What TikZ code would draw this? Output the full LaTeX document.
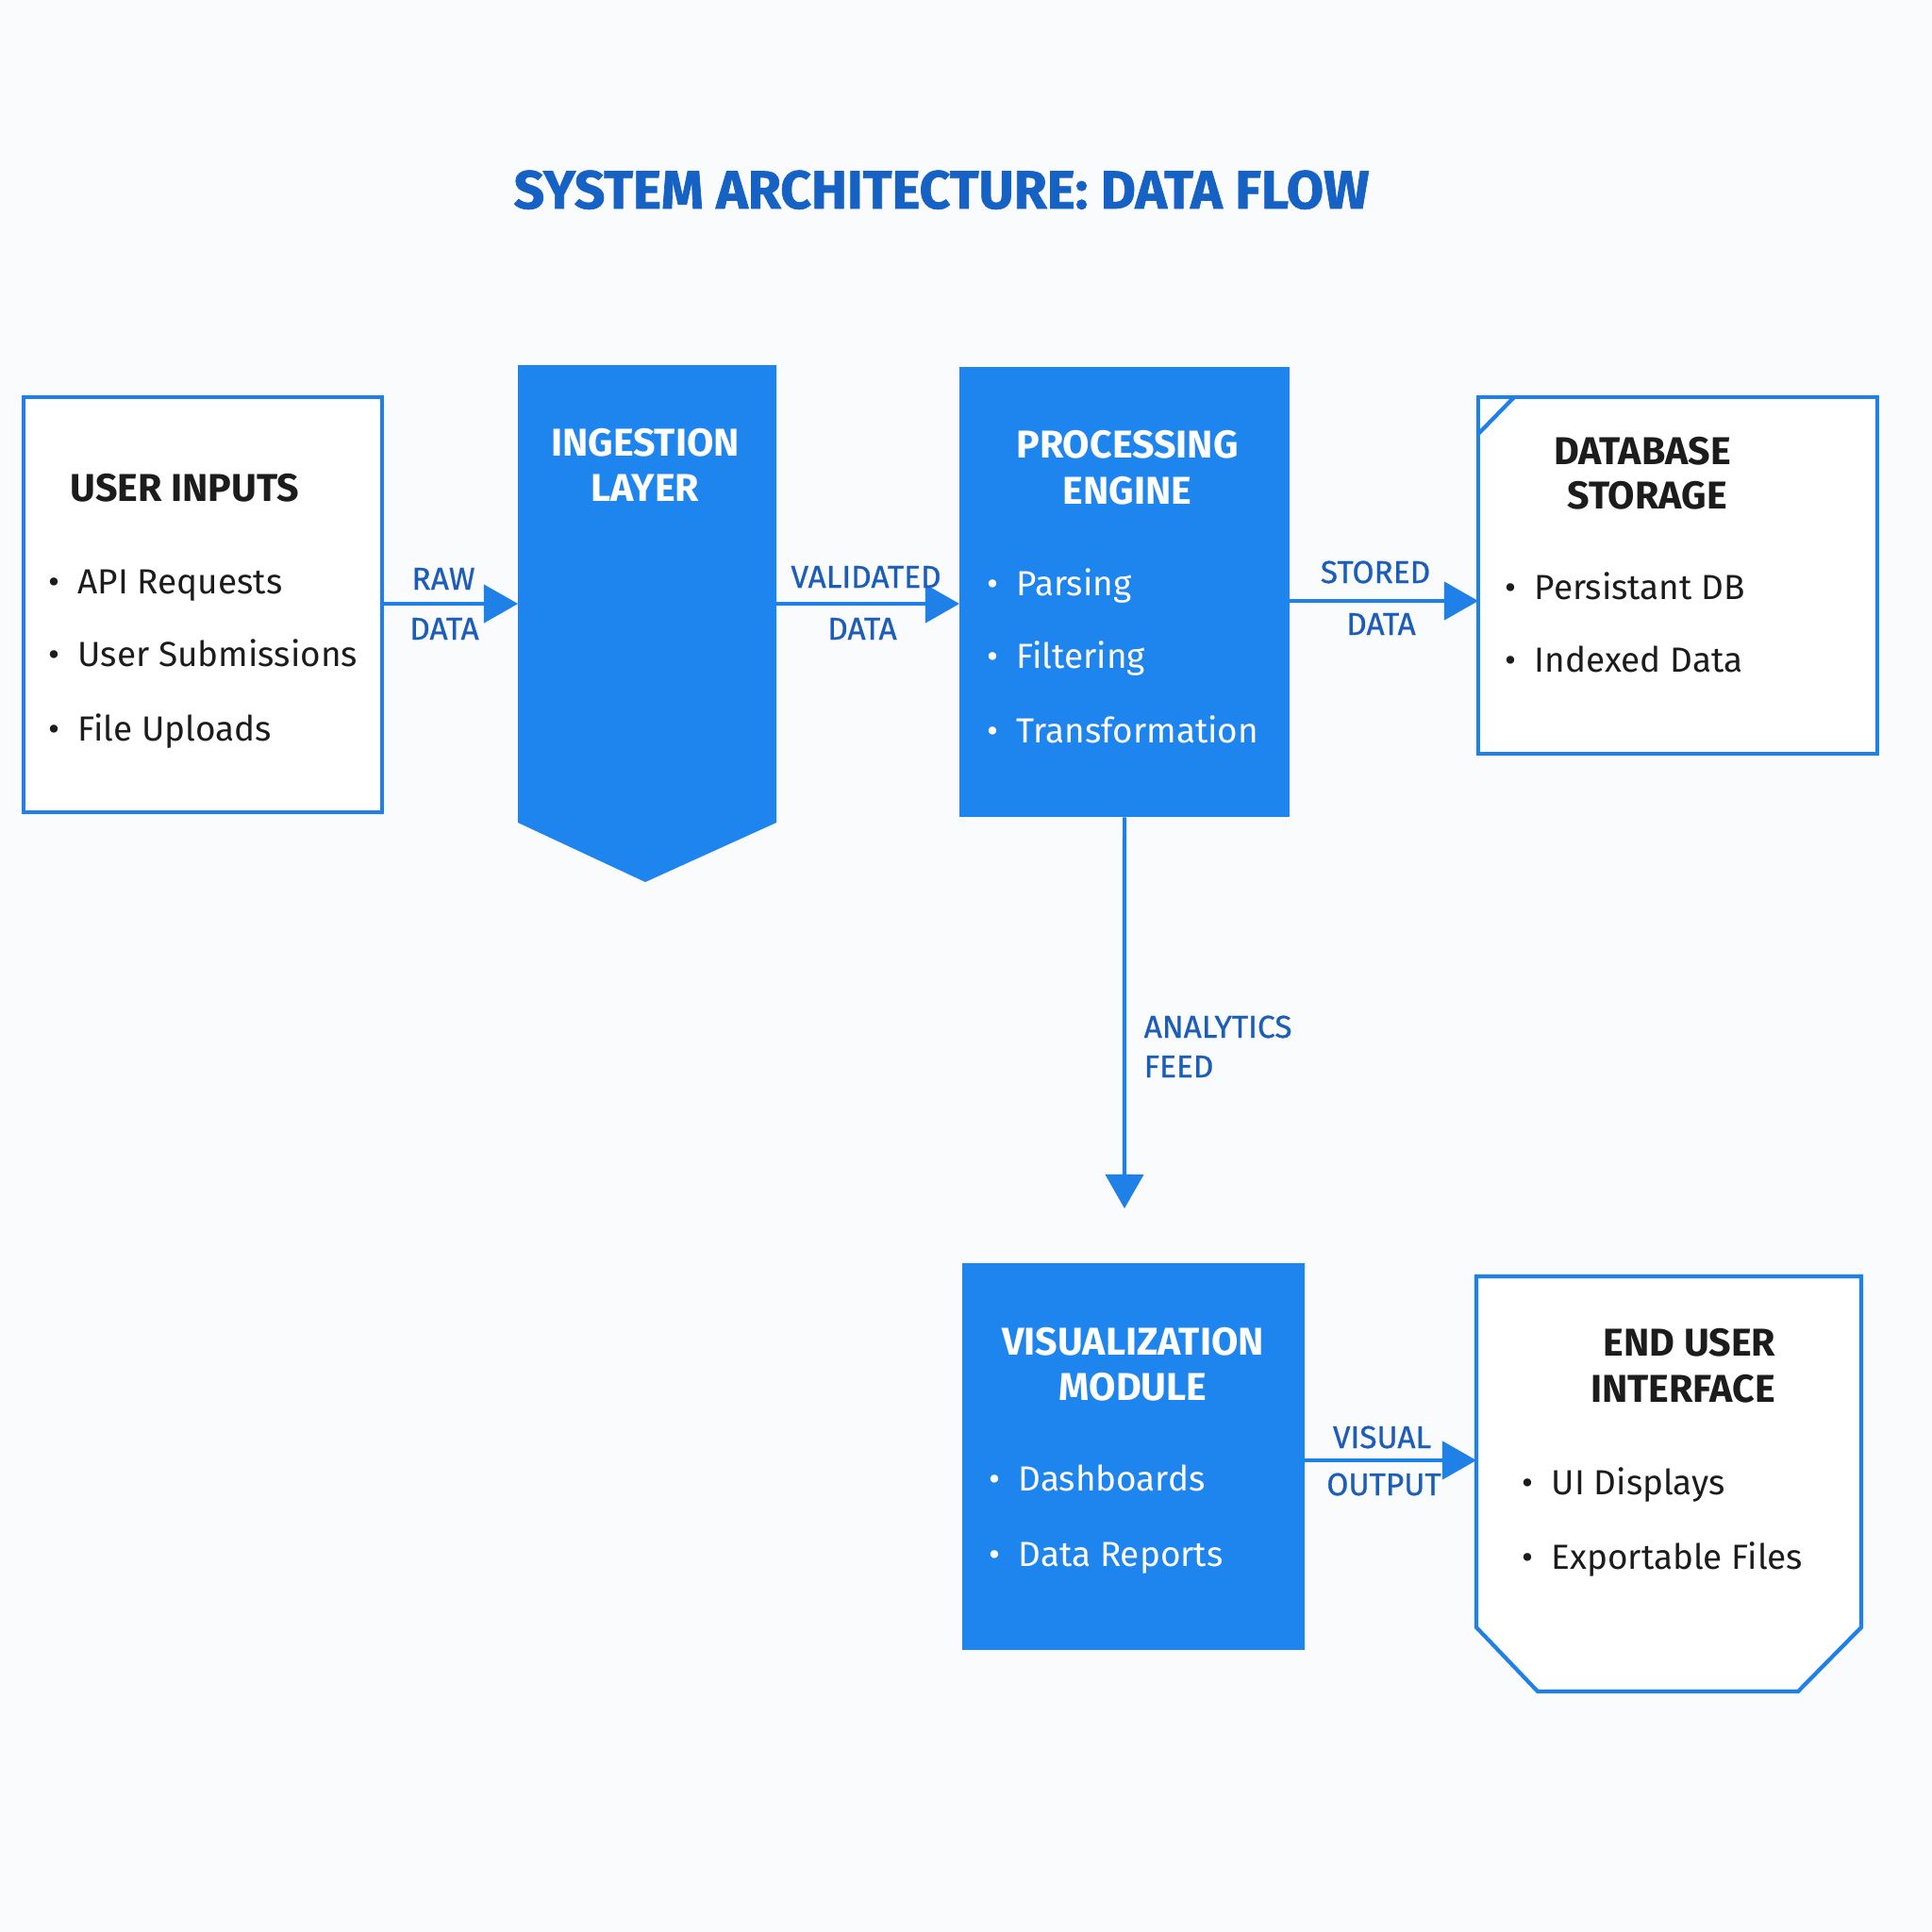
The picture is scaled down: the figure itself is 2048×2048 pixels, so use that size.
\documentclass[tikz,border=0pt]{standalone}
\usepackage{fontspec}
\setmainfont{Fira Sans}
\newfontfamily\heavyfont{Fira Sans}[UprightFeatures={FakeBold=1.2}, BoldFeatures={FakeBold=1.2}]
\newfontfamily\lblfont{Fira Sans}[UprightFeatures={FakeBold=0.7}, BoldFeatures={FakeBold=0.7}]
\usetikzlibrary{arrows.meta}
\definecolor{fillblue}{HTML}{1E84EE}
\definecolor{lineblue}{HTML}{1F80E8}
\definecolor{titleblue}{HTML}{1662C4}
\definecolor{lblblue}{HTML}{1B5DB8}
\definecolor{inktext}{HTML}{1C1C1C}
\definecolor{bgcol}{HTML}{FAFBFD}
\begin{document}
\begin{tikzpicture}[x=0.01cm,y=-0.01cm,
  outbox/.style={draw=lineblue, line width=1.2pt, fill=white, inner sep=0pt, outer sep=0pt, anchor=north west},
  solidbox/.style={fill=fillblue, inner sep=0pt, outer sep=0pt, anchor=north west},
  ghost/.style={inner sep=0pt, outer sep=0pt, anchor=north west},
  flow/.style={draw=lineblue, line width=1.2pt, -{Triangle[length=0.36cm,width=0.40cm]}},
  headdark/.style={font=\fontsize{11.7}{13.5}\selectfont\bfseries, text=inktext, inner sep=0pt, anchor=base},
  headlight/.style={font=\fontsize{11.7}{13.5}\selectfont\bfseries, text=white, inner sep=0pt, anchor=base},
  itemdark/.style={font=\fontsize{10.5}{12}\selectfont, text=inktext, inner sep=0pt, anchor=base west},
  itemlight/.style={font=\fontsize{10.5}{12}\selectfont, text=white, inner sep=0pt, anchor=base west},
  lbl/.style={font=\lblfont\fontsize{9.5}{11}\selectfont, text=lblblue, inner sep=0pt, anchor=base},
  lblleft/.style={font=\lblfont\fontsize{9.5}{11}\selectfont, text=lblblue, inner sep=0pt, anchor=base west},
  titlestyle/.style={font=\heavyfont\fontsize{16.2}{19}\selectfont\bfseries, text=titleblue, inner sep=0pt, anchor=base}
]
% background
\fill[bgcol] (0,0) rectangle (2048,2048);
\useasboundingbox (0,0) rectangle (2048,2048);

% title
\node[titlestyle] (title) at (998,221) {SYSTEM ARCHITECTURE: DATA FLOW};

% user inputs
\node[outbox, minimum width=3.80cm, minimum height=4.40cm] (ui) at (25,421) {};
\node[headdark, anchor=base west] (uih) at (74,531) {USER INPUTS};
\node[itemdark] (ui1) at (82,629) {\llap{•\hspace{5.5pt}}API Requests};
\node[itemdark] (ui2) at (82,706) {\llap{•\hspace{5.5pt}}User Submissions};
\node[itemdark] (ui3) at (82,785) {\llap{•\hspace{5.5pt}}File Uploads};

% ingestion layer
\fill[fillblue] (549,387) -- (823,387) -- (823,872) -- (684,935) -- (549,872) -- cycle;
\node[ghost, minimum width=2.74cm, minimum height=4.85cm] (ing) at (549,387) {};
\node[headlight] (ingh1) at (684,483) {INGESTION};
\node[headlight] (ingh2) at (684,531) {LAYER};

% processing engine
\node[solidbox, minimum width=3.50cm, minimum height=4.77cm] (pe) at (1017,389) {};
\node[headlight] (peh1) at (1195,485) {PROCESSING};
\node[headlight] (peh2) at (1195,534) {ENGINE};
\node[itemlight] (pe1) at (1077,631) {\llap{•\hspace{5.5pt}}Parsing};
\node[itemlight] (pe2) at (1077,708) {\llap{•\hspace{5.5pt}}Filtering};
\node[itemlight] (pe3) at (1077,787) {\llap{•\hspace{5.5pt}}Transformation};

% database storage
\node[outbox, minimum width=4.23cm, minimum height=3.78cm] (db) at (1567,421) {};
\draw[lineblue, line width=1.2pt] (1567,460) -- (1605,421);
\node[headdark] (dbh1) at (1741,492) {DATABASE};
\node[headdark] (dbh2) at (1746,539) {STORAGE};
\node[itemdark] (db1) at (1626,635) {\llap{•\hspace{5.5pt}}Persistant DB};
\node[itemdark] (db2) at (1626,712) {\llap{•\hspace{5.5pt}}Indexed Data};

% visualization module
\node[solidbox, minimum width=3.63cm, minimum height=4.10cm] (vm) at (1020,1339) {};
\node[headlight] (vmh1) at (1201,1436) {VISUALIZATION};
\node[headlight] (vmh2) at (1201,1484) {MODULE};
\node[itemlight] (vm1) at (1079,1580) {\llap{•\hspace{5.5pt}}Dashboards};
\node[itemlight] (vm2) at (1079,1660) {\llap{•\hspace{5.5pt}}Data Reports};

% end user interface
\draw[lineblue, line width=1.2pt, fill=white] (1565,1353) -- (1973,1353) -- (1973,1725) -- (1906,1793) -- (1630,1793) -- (1565,1725) -- cycle;
\node[ghost, minimum width=4.08cm, minimum height=4.40cm] (eu) at (1565,1353) {};
\node[headdark] (euh1) at (1791,1437) {END USER};
\node[headdark] (euh2) at (1784,1486) {INTERFACE};
\node[itemdark] (eu1) at (1644,1584) {\llap{•\hspace{5.5pt}}UI Displays};
\node[itemdark] (eu2) at (1644,1663) {\llap{•\hspace{5.5pt}}Exportable Files};

% connectors
\draw[flow] (ui.east |- 0,640) -- (ing.west |- 0,640);
\node[lbl] (l1a) at (470,625) {RAW};
\node[lbl] (l1b) at (471,678) {DATA};

\draw[flow] (ing.east |- 0,640) -- (pe.west |- 0,640);
\node[lbl] (l2a) at (918,623) {VALIDATED};
\node[lbl] (l2b) at (914,678) {DATA};

\draw[flow] (pe.east |- 0,637) -- (db.west |- 0,637);
\node[lbl] (l3a) at (1458,618) {STORED};
\node[lbl] (l3b) at (1464,673) {DATA};

\coordinate (afend) at (1192,1281);
\draw[flow] (pe.south) -- (afend);
\node[lblleft] (l4a) at (1212,1100) {ANALYTICS};
\node[lblleft] (l4b) at (1212,1142) {FEED};

\draw[flow] (vm.east |- 0,1548) -- (eu.west |- 0,1548);
\node[lbl] (l5a) at (1465,1535) {VISUAL};
\node[lbl] (l5b) at (1467,1585) {OUTPUT};
\end{tikzpicture}
\end{document}
